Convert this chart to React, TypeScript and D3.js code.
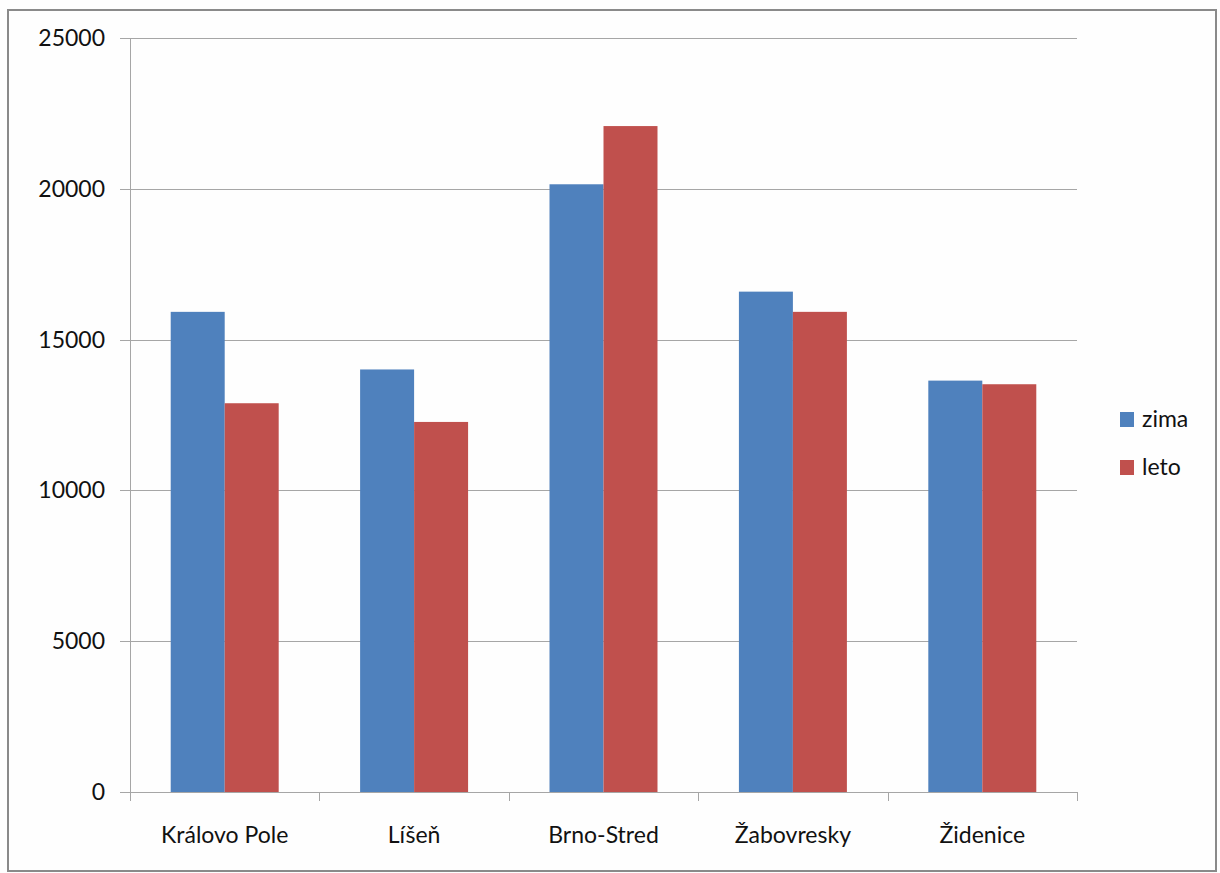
import React from "react";
import * as d3 from "d3";

const categories = ["Královo Pole", "Líšeň", "Brno-Stred", "Žabovresky", "Židenice"];
const seriesNames = ["zima", "leto"];
const zima = [15920, 14010, 20150, 16590, 13640];
const leto = [12890, 12270, 22080, 15920, 13520];
const yTicks = [0, 5000, 10000, 15000, 20000, 25000];
const colors = ["#4F81BD", "#C0504D"];

const W = 1220;
const H = 873;
const plot = { left: 130, right: 1077, top: 38, bottom: 792 };
const FONT = "Lato, 'Open Sans', sans-serif";

export default function App() {
  const x = d3.scaleBand<string>().domain(categories).range([plot.left, plot.right]).padding(0);
  const xs = d3
    .scaleBand<string>()
    .domain(seriesNames)
    .range([0, x.bandwidth()])
    .paddingInner(0)
    .paddingOuter(0.754);
  const y = d3.scaleLinear().domain([0, 25000]).range([plot.bottom, plot.top]);
  const values = [zima, leto];
  const boundaries = categories.map((c) => x(c)!).concat([plot.right]);

  return (
    <svg
      width={W}
      height={H}
      style={{ position: "absolute", left: 0, top: 0, background: "#fff" }}
      fontFamily={FONT}
    >
      <rect x={0} y={0} width={W} height={H} fill="#fefefe" />
      <rect x={8} y={10} width={1208} height={861} fill="none" stroke="#8a8a8a" strokeWidth={2} />

      {/* horizontal gridlines with left tick marks */}
      {yTicks.map((t) => (
        <g key={t}>
          <line
            x1={plot.left - 10}
            x2={plot.right}
            y1={Math.round(y(t)) + 0.5}
            y2={Math.round(y(t)) + 0.5}
            stroke="#a6a6a6"
            strokeWidth={1}
          />
          <text x={105} y={y(t) + 8} textAnchor="end" fontSize={23} fill="#111">
            {t}
          </text>
        </g>
      ))}

      {/* bars */}
      {categories.map((c, i) =>
        seriesNames.map((s, k) => (
          <rect
            key={c + s}
            x={x(c)! + xs(s)!}
            y={y(values[k][i])}
            width={xs.bandwidth()}
            height={y(0) - y(values[k][i])}
            fill={colors[k]}
          />
        ))
      )}

      {/* axes */}
      <line x1={plot.left + 0.5} x2={plot.left + 0.5} y1={plot.top} y2={plot.bottom + 9} stroke="#a6a6a6" />
      {boundaries.slice(1).map((bx, i) => (
        <line
          key={i}
          x1={Math.round(bx) + 0.5}
          x2={Math.round(bx) + 0.5}
          y1={plot.bottom}
          y2={plot.bottom + 9}
          stroke="#a6a6a6"
        />
      ))}
      {categories.map((c) => (
        <text
          key={c}
          x={x(c)! + x.bandwidth() / 2}
          y={843}
          textAnchor="middle"
          fontSize={23}
          fill="#111"
        >
          {c}
        </text>
      ))}

      {/* legend */}
      {seriesNames.map((s, k) => (
        <g key={s}>
          <rect x={1120} y={412 + k * 48} width={14} height={15} fill={colors[k]} />
          <text x={1142} y={427 + k * 48} fontSize={23} fill="#111">
            {s}
          </text>
        </g>
      ))}
    </svg>
  );
}
